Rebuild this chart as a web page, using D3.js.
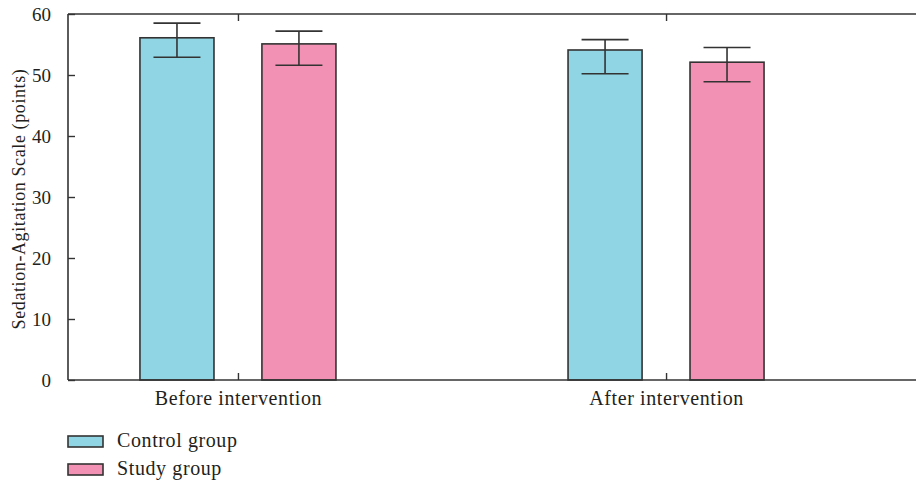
<!DOCTYPE html>
<html><head><meta charset="utf-8">
<script src="https://cdn.jsdelivr.net/npm/d3@7"></script>
<style>body{margin:0;background:#fff}svg{display:block}text{font-family:"Liberation Serif","DejaVu Serif",serif;fill:#231f20}</style>
</head><body><svg id="c" width="916" height="487"></svg>
<script>
const groups = ["Before intervention", "After intervention"];
const series = ["Control group", "Study group"];
const colors = ["#8fd5e3", "#f291b3"];
const controlMean = [56.1, 54.1];
const studyMean = [55.1, 52.1];
const controlUpper = [58.5, 55.8];
const controlLower = [52.9, 50.2];
const studyUpper = [57.2, 54.5];
const studyLower = [51.6, 48.9];
const yTicks = [0, 10, 20, 30, 40, 50, 60];
const yLabel = "Sedation-Agitation Scale (points)";

const svg = d3.select("#c");
const W = 916, H = 487;
const L = 68, T = 14, B = 380;
const x = d3.scalePoint().domain(groups).range([L, 836]).padding(0.397);
const sub = d3.scaleBand().domain(series).range([-98, 98]).paddingInner(0.393).paddingOuter(0);
const y = d3.scaleLinear().domain([0, 60]).range([B, T]);

const data = [];
groups.forEach((g, i) => {
  data.push({g, s: series[0], c: colors[0], v: controlMean[i], hi: controlUpper[i], lo: controlLower[i]});
  data.push({g, s: series[1], c: colors[1], v: studyMean[i], hi: studyUpper[i], lo: studyLower[i]});
});

const stroke = "#333";
svg.selectAll("rect.bar").data(data).join("rect").attr("class","bar")
  .attr("x", d => x(d.g) + sub(d.s)).attr("width", sub.bandwidth())
  .attr("y", d => y(d.v)).attr("height", d => y(0) - y(d.v))
  .attr("fill", d => d.c).attr("stroke", stroke).attr("stroke-width", 1.6);

const cap = 23.5;
const eb = svg.append("g").attr("stroke", "#333").attr("stroke-width", 1.6);
data.forEach(d => {
  const cx = x(d.g) + sub(d.s) + sub.bandwidth()/2;
  eb.append("line").attr("x1", cx).attr("x2", cx).attr("y1", y(d.hi)).attr("y2", y(d.lo));
  eb.append("line").attr("x1", cx-cap).attr("x2", cx+cap).attr("y1", y(d.hi)).attr("y2", y(d.hi));
  eb.append("line").attr("x1", cx-cap).attr("x2", cx+cap).attr("y1", y(d.lo)).attr("y2", y(d.lo));
});

const fr = svg.append("g").attr("stroke", "#333").attr("stroke-width", 1.6);
fr.append("line").attr("x1", L).attr("x2", W).attr("y1", B).attr("y2", B);
fr.append("line").attr("x1", L).attr("x2", W).attr("y1", T).attr("y2", T);
fr.append("line").attr("x1", L).attr("x2", L).attr("y1", T).attr("y2", B);

const yAxis = d3.axisLeft(y).tickValues(yTicks).tickSize(-7).tickPadding(17);
const ya = svg.append("g").attr("transform", `translate(${L},0)`).call(yAxis);
ya.select(".domain").remove();
ya.selectAll("line").attr("stroke", "#333").attr("stroke-width", 1.4);
ya.selectAll("text").style("font-size", "19px").attr("fill", "#231f20");

const xAxis = d3.axisBottom(x).tickSize(-7).tickPadding(11);
const xa = svg.append("g").attr("transform", `translate(0,${B})`).call(xAxis);
xa.select(".domain").remove();
xa.selectAll("line").attr("stroke", "#333").attr("stroke-width", 1.4);
xa.selectAll("text").style("font-size", "20px").style("letter-spacing", "0.6px").attr("fill", "#231f20");

const xt = svg.append("g").attr("transform", `translate(0,${T})`).call(d3.axisTop(x).tickSize(-7).tickFormat(""));
xt.select(".domain").remove();
xt.selectAll("line").attr("stroke", "#333").attr("stroke-width", 1.4);

svg.append("text").attr("transform", `translate(25,${(T+B)/2 + 2}) rotate(-90)`)
  .attr("text-anchor", "middle").style("font-size", "18px").style("letter-spacing", "0.6px").text(yLabel);

const lg = svg.append("g");
series.forEach((s, i) => {
  const yy = 436 + i*28;
  lg.append("rect").attr("x", 68).attr("y", yy).attr("width", 35).attr("height", 11)
    .attr("fill", colors[i]).attr("stroke", stroke).attr("stroke-width", 1.6);
  lg.append("text").attr("x", 117).attr("y", yy + 11).style("font-size", "20px").style("letter-spacing", "0.6px").text(s);
});
</script></body></html>
